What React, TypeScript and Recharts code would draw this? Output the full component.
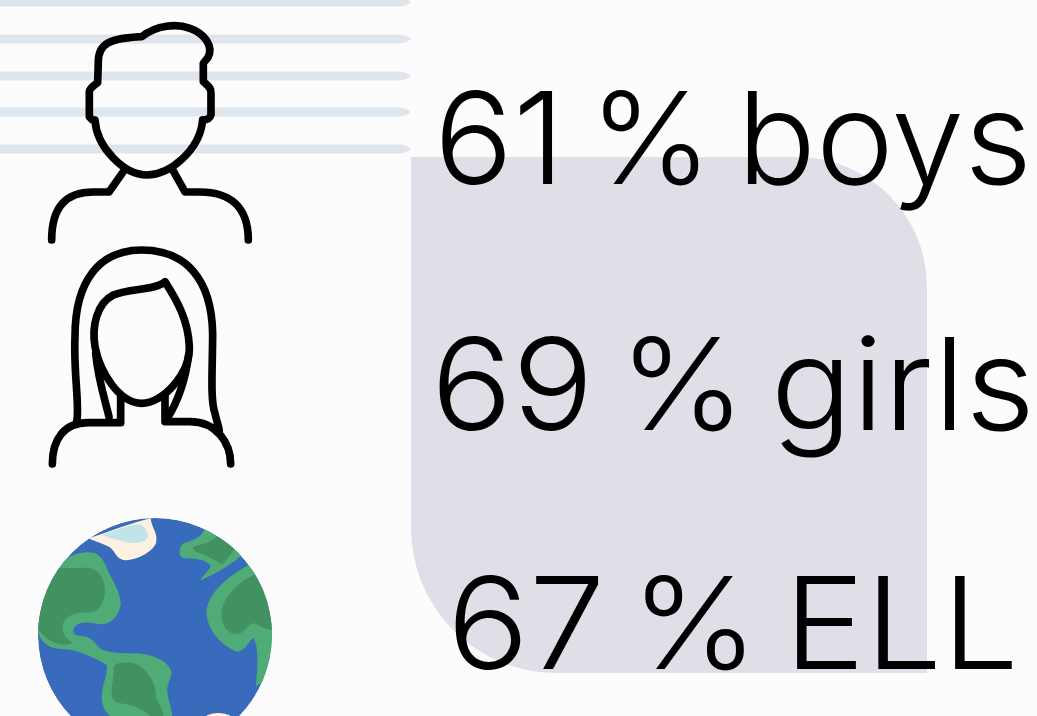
import React from "react";
import { BarChart, Bar, XAxis, YAxis, LabelList, Customized } from "recharts";

const groups = ["boys", "girls", "ELL"];
const percents = [61, 69, 67];
const rows = groups.map((group, i) => ({ group, percent: percents[i] }));

const ink = "#000000";
const faint = "#dfe5ec";
const panel = "#dedfe7";
const ocean = "#386bbb";
const land = "#4fac76";
const forest = "#429160";
const ice = "#fdf1e1";
const water = "#c1e3ea";
const stripeYs = [2, 39, 76, 112, 149];
const textWidths = [598, 604, 572];
const textNudges = [0, 2.5, -1];

const Backdrop = () => (
  <g>
    <path d="M411 157 H797 A130 130 0 0 1 927 287 V673 H556 A145 145 0 0 1 411 528 Z" fill={panel} />
    {stripeYs.map((y) => (
      <path key={y} d={`M0 ${y - 4.5} H398 Q406 ${y - 4.5} 411 ${y} Q406 ${y + 4.5} 398 ${y + 4.5} H0 Z`} fill={faint} />
    ))}
  </g>
);

const Man = () => (
  <g transform="scale(0.3333)" fill="none" stroke={ink} strokeWidth={23} strokeLinecap="round" strokeLinejoin="round">
    <path d="M275 358 L268 350 L268 275 C270 262 285 255 293 248 L295 185 C295 130 330 115 425 110 C470 75 530 70 570 85 C615 100 640 140 625 170 C620 180 612 185 610 190 L610 245 C620 255 635 262 633 280 L633 345 C630 355 620 360 608 360" />
    <path d="M285 360 C290 440 370 525 440 525 C510 525 600 450 608 360" />
    <path d="M370 515 L327 576 L280 576 C200 576 155 620 155 720" />
    <path d="M518 510 L555 576 L600 576 C690 576 745 620 745 720" />
  </g>
);

const Woman = () => (
  <g transform="translate(30 240) scale(0.3333)" fill="none" stroke={ink} strokeWidth={23} strokeLinecap="round" strokeLinejoin="round">
    <path d="M140 545 C150 500 130 400 135 290 C135 120 210 30 335 30 C470 30 545 120 548 280 C548 380 540 480 555 520 C560 545 570 570 568 575" />
    <path d="M405 125 C380 150 300 145 250 165 C200 190 185 260 195 320 C210 400 270 490 335 490 C400 490 480 400 478 320 C475 240 440 180 405 125 Z" />
    <path d="M67 672 C67 600 100 548 175 548 L272 548 L272 470" />
    <path d="M405 465 L405 545 L480 545 C560 545 602 610 602 672" />
    <path d="M197 340 C205 420 225 480 237 530" />
    <path d="M476 345 C465 430 440 490 412 535" />
  </g>
);

const Globe = () => (
  <g transform="translate(20 505) scale(0.3333)">
    <clipPath id="globe-clip">
      <circle cx={405} cy={390} r={351} />
    </clipPath>
    <g clipPath="url(#globe-clip)">
      <circle cx={405} cy={390} r={351} fill={ocean} />
      <path fill={ice} d="M205 100 C270 80 330 55 392 40 C395 70 415 85 408 115 C395 145 340 170 310 165 C285 160 285 130 260 122 C240 112 220 108 205 100 Z" />
      <path fill={water} d="M248 90 C280 78 320 62 350 58 C372 56 385 80 384 95 C378 112 345 118 320 112 C295 105 265 98 248 90 Z" />
      <path fill={land} d="M115 188 C135 150 190 135 225 145 C250 155 255 180 270 210 C290 245 305 280 302 300 C295 340 265 360 240 358 C215 355 185 345 165 365 C150 385 165 392 185 393 C215 395 225 415 240 430 C265 445 300 445 350 445 C400 448 450 470 455 505 C450 530 440 540 442 560 C445 590 460 620 455 640 L280 640 C250 620 245 600 245 570 C250 530 265 500 260 480 C240 465 200 450 175 440 C150 430 115 435 90 425 C70 415 55 395 50 370 L50 300 Z" />
      <path fill={forest} d="M100 190 L200 188 C240 190 255 225 255 260 C250 295 240 318 215 322 C180 322 150 325 135 345 C120 365 125 395 160 415 C130 425 100 415 80 400 C65 385 55 375 50 370 L50 300 Z" />
      <path fill={forest} d="M285 480 C310 465 350 470 375 495 C400 525 410 550 408 580 C420 600 430 620 432 640 L395 640 C370 610 330 597 300 595 C280 590 275 580 275 560 C275 530 285 510 280 490 Z" />
      <path fill={land} d="M555 72 C590 95 640 125 665 150 C640 175 590 205 545 225 C535 225 560 205 572 185 C565 165 530 160 490 160 C475 155 475 130 490 115 C520 105 540 100 555 72 Z" />
      <path fill={forest} d="M590 95 C610 100 630 115 645 130 C630 150 620 170 605 178 C590 170 570 155 540 145 C525 140 515 130 520 125 C545 118 575 110 590 95 Z" />
      <path fill={land} d="M685 180 C640 205 575 250 560 310 C555 370 600 420 650 440 C675 440 685 410 700 398 C715 420 715 480 707 545 L770 500 L770 180 Z" />
      <path fill={forest} d="M705 208 C660 230 610 270 604 325 C605 370 630 395 660 385 C680 378 685 355 705 355 C725 365 740 375 760 375 L770 250 Z" />
      <ellipse cx={595} cy={642} rx={42} ry={18} fill={ice} />
    </g>
  </g>
);

const Art = () => (
  <g>
    <Backdrop />
    <Man />
    <Woman />
    <Globe />
  </g>
);

const RowLabel = (props: any) => {
  const { y, height, index } = props;
  const row = rows[index];
  return (
    <text
      x={733}
      y={y + height / 2 + 47 + textNudges[index]}
      textAnchor="middle"
      fontFamily="Inter, 'Open Sans', sans-serif"
      fontWeight={300}
      fontSize={128}
      wordSpacing={-12}
      fill={ink}
      textLength={textWidths[index]}
      lengthAdjust="spacingAndGlyphs"
    >
      {`${row.percent} % ${row.group}`}
    </text>
  );
};

export default function App() {
  return (
    <div style={{ position: "fixed", inset: 0, width: 1037, height: 716, overflow: "hidden", background: "#fcfcfd" }}>
      <BarChart
        width={1037}
        height={760}
        data={rows}
        layout="vertical"
        margin={{ top: 16, right: 0, bottom: 15, left: 0 }}
      >
        <XAxis type="number" domain={[0, 100]} hide />
        <YAxis type="category" dataKey="group" hide />
        <Customized component={Art} />
        <Bar dataKey="percent" fill="none" isAnimationActive={false}>
          <LabelList dataKey="percent" content={RowLabel} />
        </Bar>
      </BarChart>
    </div>
  );
}
